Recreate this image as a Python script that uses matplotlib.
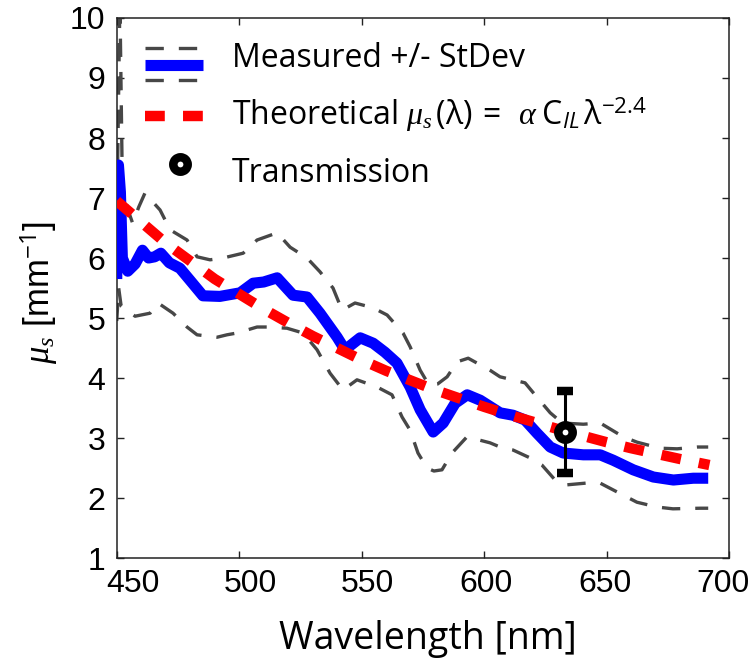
import matplotlib
matplotlib.use("Agg")
import matplotlib.pyplot as plt
import matplotlib.transforms as mtransforms
from matplotlib.lines import Line2D
from matplotlib.legend_handler import HandlerBase

# Measured scattering coefficient (mean)
blue_nm = [450.0, 450.7, 451.5, 452.3, 454.5, 457.5, 460.5, 463.0, 465.5, 468.0,
           471.5, 475.8, 479.9, 485.2, 492.1, 500.4, 505.7, 510.0, 515.5, 522.0,
           527.7, 533.0, 540.0, 543.2, 549.4, 554.7, 559.5, 564.4, 569.8, 573.9,
           579.2, 583.3, 588.2, 593.1, 598.4, 606.5, 611.8, 616.7, 621.6, 627.0,
           632.3, 640.5, 647.4, 652.7, 660.9, 669.1, 677.3, 685.4, 691.5]
blue_mu = [5.65, 7.55, 7.1, 6.0, 5.78, 5.9, 6.13, 6.0, 6.02, 6.08,
           5.92, 5.83, 5.63, 5.37, 5.36, 5.42, 5.58, 5.6, 5.67, 5.38,
           5.35, 5.08, 4.68, 4.47, 4.67, 4.58, 4.43, 4.25, 3.85, 3.47,
           3.1, 3.25, 3.58, 3.72, 3.63, 3.42, 3.38, 3.3, 3.08, 2.85,
           2.75, 2.72, 2.72, 2.63, 2.47, 2.35, 2.3, 2.33, 2.33]

# mean + StDev
upper_nm = [450.0, 451.3, 452.3, 454.6, 456.5, 459.0, 461.5, 467.7, 471.8, 478.7,
            482.8, 488.1, 493.4, 501.6, 507.3, 515.5, 520.8, 527.7, 533.0, 538.3,
            542.0, 547.3, 554.7, 560.4, 566.9, 569.8, 573.9, 577.5, 581.0, 584.9,
            589.0, 593.5, 602.4, 606.5, 616.7, 621.6, 627.0, 631.9, 640.5, 647.4,
            656.8, 662.5, 671.9, 678.8, 687.0, 691.5]
upper_mu = [6.5, 10.3, 7.2, 6.8, 6.58, 6.85, 7.08, 6.8, 6.47, 6.3,
            6.02, 5.97, 6.0, 6.08, 6.3, 6.42, 6.18, 6.0, 5.77, 5.5,
            5.13, 5.25, 5.17, 5.05, 4.75, 4.52, 4.13, 3.88, 3.9, 4.02,
            4.27, 4.33, 4.13, 4.02, 3.92, 3.68, 3.42, 3.25, 3.23, 3.25,
            3.02, 2.93, 2.83, 2.82, 2.85, 2.85]

# mean - StDev
lower_nm = [450.0, 450.8, 451.8, 454.2, 457.5, 463.6, 466.9, 473.0, 478.7, 482.8,
            491.0, 495.0, 499.1, 507.3, 511.4, 519.5, 526.1, 531.8, 537.1, 542.4,
            548.1, 556.3, 562.4, 566.5, 569.8, 573.0, 576.7, 579.5, 582.8, 586.9,
            593.0, 602.4, 607.7, 611.8, 618.7, 623.6, 629.0, 633.9, 642.0, 647.3,
            656.7, 662.4, 670.6, 677.1, 688.2, 691.5]
lower_mu = [4.95, 5.5, 5.2, 5.13, 5.03, 5.08, 5.25, 5.08, 4.85, 4.72,
            4.68, 4.72, 4.75, 4.85, 4.85, 4.83, 4.75, 4.47, 4.08, 3.8,
            3.97, 3.85, 3.72, 3.35, 3.13, 2.75, 2.5, 2.45, 2.47, 2.75,
            3.02, 2.92, 2.83, 2.8, 2.67, 2.55, 2.3, 2.22, 2.25, 2.25,
            2.05, 1.93, 1.85, 1.82, 1.83, 1.83]

# theoretical curve as drawn
theory_nm = [450, 460, 470, 480, 490, 500, 510, 520, 530, 540, 550, 560, 570,
             580, 590, 600, 610, 620, 630, 640, 650, 660, 670, 680, 692]
theory_mu = [6.95, 6.6, 6.25, 5.95, 5.65, 5.4, 5.15, 4.92, 4.7, 4.5, 4.3, 4.12, 3.96,
             3.8, 3.66, 3.52, 3.39, 3.27, 3.15, 3.04, 2.93, 2.83, 2.74, 2.65, 2.55]

# transmission measurement
trans_nm = [633]
trans_mu = [3.1]
trans_err = [0.69]

xticks = [450, 500, 550, 600, 650, 700]

plt.rcParams['font.family'] = ['Liberation Sans', 'DejaVu Sans']
plt.rcParams['mathtext.fontset'] = 'custom'
plt.rcParams['mathtext.rm'] = 'Open Sans'
plt.rcParams['mathtext.it'] = 'Liberation Serif:italic'
plt.rcParams['mathtext.sf'] = 'Open Sans:italic'
plt.rcParams['mathtext.bf'] = 'Open Sans:bold'


class RowHandle(HandlerBase):
    # legend handle with lines / marker at given heights (pt above text baseline)
    def __init__(self, handles, y_offsets, marker=False):
        super().__init__()
        self.handles = handles
        self.y_offsets = y_offsets
        self.marker = marker

    def create_artists(self, legend, orig_handle, xdescent, ydescent,
                       width, height, fontsize, trans):
        out = []
        for h, y in zip(self.handles, self.y_offsets):
            if self.marker:
                art = Line2D([width * 0.6 - xdescent], [y])
            else:
                art = Line2D([-xdescent, width - xdescent], [y, y])
            self.update_prop(art, h, legend)
            art.set_transform(trans)
            out.append(art)
        return out


fig = plt.figure(figsize=(7.55, 6.64), dpi=100)
ax = fig.add_axes([0.1546, 0.1596, 0.811, 0.8133])

gray = '#474747'
up_line, = ax.plot(upper_nm, upper_mu, color=gray, lw=2.4, dashes=(5.5, 4.5), zorder=2)
ax.plot(lower_nm, lower_mu, color=gray, lw=2.4, dashes=(5.5, 4.5), zorder=2)
blue_line, = ax.plot(blue_nm, blue_mu, color='#0000ff', lw=8,
                     solid_joinstyle='round', solid_capstyle='butt', zorder=3)
red_line, = ax.plot(theory_nm, theory_mu, color='#ff0000', lw=7.5,
                    dashes=(1.9, 1.75), zorder=4)
eb = ax.errorbar(trans_nm, trans_mu, yerr=trans_err, fmt='o', color='k',
                 mfc='w', mec='k', ms=10.4, mew=6.1, elinewidth=2.2,
                 capsize=6, capthick=2.2, zorder=5)
mark_line = eb[0]

ax.set_xlim(450, 700)
ax.set_ylim(1, 10)
ax.set_xticks(xticks)
ax.set_yticks(range(1, 11))
ax.tick_params(direction='in', top=True, right=True, length=5, width=1,
               labelsize=23, pad=8, colors='#222222', labelcolor='k')
for s in ax.spines.values():
    s.set_linewidth(1.1)
    s.set_color('#222222')

# the x labels in the original sit slightly off their ticks
for lab, dx in zip(ax.get_xticklabels(), [16, 11, 6, 2, -2, -6]):
    lab.set_transform(lab.get_transform() +
                      mtransforms.ScaledTranslation(dx / 100, 0, fig.dpi_scale_trans))

ax.set_xlabel('Wavelength [nm]', family='Open Sans', fontsize=27)
ax.xaxis.set_label_coords(0.5076, -0.115)
ax.set_ylabel(r'$\mu_s$ [mm$^{-1}$]', fontsize=25)
ax.yaxis.set_label_coords(-0.092, 0.4926)

labels = ['Measured +/- StDev',
          r'Theoretical $\mu_s\,(\mathrm{\lambda})\;=\;\;\alpha\;\mathrm{C}_{\mathsf{IL}}\,\mathrm{\lambda}^{-2.4}$',
          'Transmission']
ax.legend([blue_line, red_line, mark_line], labels,
          handler_map={blue_line: RowHandle([up_line, blue_line, up_line], [13.7, 1.4, -9.4]),
                       red_line: RowHandle([red_line], [6.5]),
                       mark_line: RowHandle([mark_line], [13.0], marker=True)},
          loc='upper left', bbox_to_anchor=(0.0462, 0.9704), frameon=False,
          borderpad=0, borderaxespad=0, handlelength=1.816, handletextpad=0.91,
          handleheight=1.8, labelspacing=0.39, prop={'family': 'Open Sans', 'size': 23})

fig.savefig('out.png', dpi=100)
